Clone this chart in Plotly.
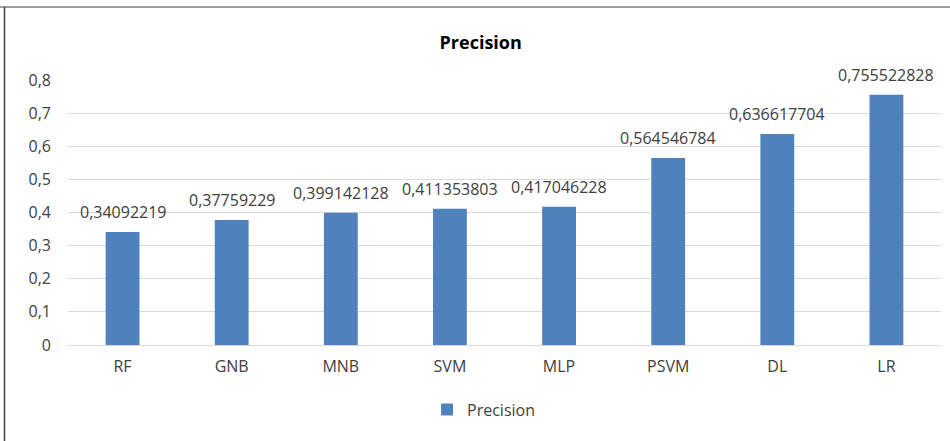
import plotly.graph_objects as go

categories = ["RF", "GNB", "MNB", "SVM", "MLP", "PSVM", "DL", "LR"]
precision = [0.34092219, 0.37759229, 0.399142128, 0.411353803,
             0.417046228, 0.564546784, 0.636617704, 0.755522828]
y_tick_vals = [0, 0.1, 0.2, 0.3, 0.4, 0.5, 0.6, 0.7, 0.8]
y_tick_text = ["0", "0,1", "0,2", "0,3", "0,4", "0,5", "0,6", "0,7", "0,8"]

labels = [str(v).replace(".", ",") for v in precision]

FONT = "Open Sans, Noto Sans, sans-serif"
TXT = "#404040"

fig = go.Figure()
fig.add_trace(go.Bar(
    x=categories, y=precision, name="Precision",
    marker=dict(color="#4F81BD", line=dict(width=0)),
    width=0.31,
))

for c, v, t in zip(categories, precision, labels):
    fig.add_annotation(x=c, y=v, text=t, showarrow=False, xanchor="center",
                       yanchor="bottom", yshift=7,
                       font=dict(family=FONT, size=16, color=TXT))

fig.update_layout(
    width=950, height=441,
    paper_bgcolor="white", plot_bgcolor="white",
    margin=dict(l=68, r=9, t=80, b=96, autoexpand=False),
    font=dict(family=FONT, size=16, color=TXT),
    title=dict(text="<b>Precision</b>", x=0.506, xanchor="center",
               y=1 - 43 / 441, yanchor="middle",
               font=dict(family=FONT, size=18, color="#000000")),
    showlegend=True,
    legend=dict(orientation="h", x=0.476, xanchor="center", y=-0.18, yanchor="top",
                font=dict(family=FONT, size=16, color=TXT), itemwidth=30),
    shapes=[
        dict(type="line", xref="paper", yref="paper", x0=-68 / 873, x1=1.2,
             y0=1 + 73 / 265, y1=1 + 73 / 265, line=dict(color="#7F7F7F", width=1.5)),
        dict(type="line", xref="paper", yref="paper", x0=-63.5 / 873, x1=-63.5 / 873,
             y0=-2, y1=1 + 73 / 265, line=dict(color="#404040", width=1.5)),
    ],
)
fig.update_xaxes(showgrid=False, showline=False, ticks="",
                 tickfont=dict(family=FONT, size=16, color=TXT), ticklabelstandoff=10)
fig.update_yaxes(range=[0, 0.8], tickvals=y_tick_vals, ticktext=y_tick_text,
                 showgrid=True, gridcolor="#D9D9D9", gridwidth=1,
                 zeroline=True, zerolinecolor="#D9D9D9", zerolinewidth=1,
                 showline=False, ticks="", ticklabelstandoff=16,
                 tickfont=dict(family=FONT, size=16, color=TXT))

fig.write_html("out.html", config={"displayModeBar": False},
               post_script="document.body.style.margin='0';")
